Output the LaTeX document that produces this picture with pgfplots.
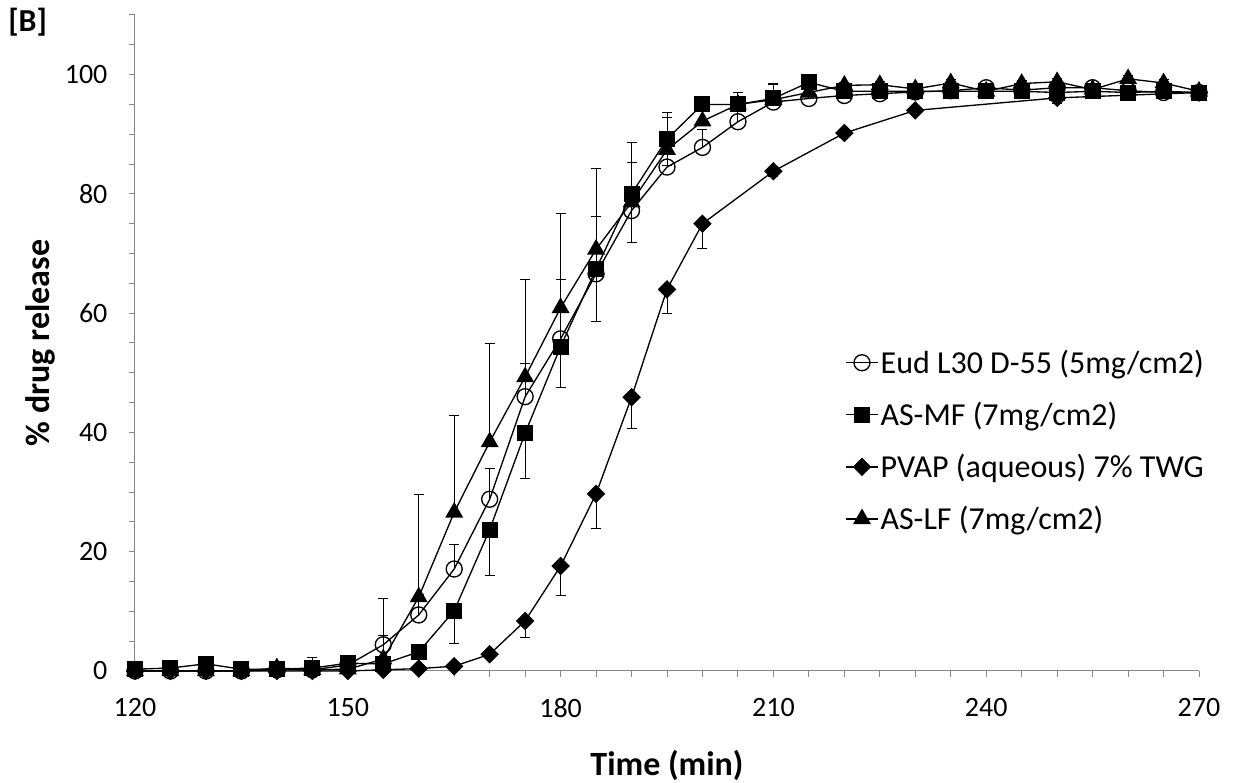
\documentclass[border=0pt]{standalone}
\usepackage{fontspec}
\setmainfont{Carlito}
\usepackage{pgfplots}
\usepackage{pgfplotstable}
\pgfplotsset{compat=1.18}
\definecolor{axisgray}{HTML}{868686}

% time (min), mean release (%), one-sided error
\pgfplotstableread{
t y e
120 0.0 0.3
125 0.0 0.3
130 0.0 0.3
135 0.0 0.3
140 0.2 0.5
145 0.2 2.0
150 1.0 0.8
155 4.4 1.5
160 9.4 3.5
165 17.1 4.1
170 28.8 5.2
175 46.0 5.5
180 55.7 9.9
185 66.6 9.6
190 77.2 8.0
195 84.5 8.3
200 87.8 3.0
205 92.1 2.5
210 95.4 3.0
215 96.0 1.0
220 96.5 0.8
225 96.8 0.6
230 97.1 0.5
235 97.3 0.5
240 97.8 0.5
245 97.4 0.5
250 97.8 0.5
255 97.8 0.5
260 97.3 0.5
265 97.0 0.5
270 97.0 0.5
}\eud

\pgfplotstableread{
t y e
120 0.3 0.2
125 0.5 0.2
130 1.2 0.3
135 0.3 0.2
140 0.3 0.2
145 0.5 0.3
150 1.3 0.5
155 1.2 0.5
160 3.2 1.0
165 10.1 5.5
170 23.7 7.7
175 39.9 7.6
180 54.4 6.8
185 67.4 8.8
190 80.0 8.1
195 89.2 4.5
200 95.0 1.0
205 95.0 0.5
210 96.0 0.5
215 98.7 0.5
220 97.2 0.3
225 97.2 0.3
230 97.2 0.3
235 97.2 0.3
240 97.2 0.3
245 97.2 0.3
250 97.0 0.3
255 97.2 0.3
260 97.0 0.3
265 97.2 0.3
270 97.0 0.3
}\asmf

\pgfplotstableread{
t y e
120 0.0 0.1
125 0.0 0.1
130 0.0 0.1
135 0.0 0.1
140 0.0 0.1
145 0.0 0.1
150 0.0 0.1
155 0.2 0.1
160 0.4 0.2
165 0.8 0.3
170 2.8 0.5
175 8.4 2.8
180 17.6 5.0
185 29.7 5.8
190 45.9 5.2
195 64.0 4.0
200 75.0 4.1
210 83.8 0.8
220 90.2 0.8
230 94.0 0.5
250 96.1 1.0
270 97.0 0.3
}\pvap

\pgfplotstableread{
t y e
120 0.0 0.3
125 0.0 0.3
130 0.0 0.3
135 0.0 0.3
140 0.5 0.3
145 0.2 0.5
150 0.3 0.5
155 2.0 10.2
160 12.4 17.2
165 26.6 16.2
170 38.4 16.5
175 49.3 16.3
180 60.9 15.8
185 70.7 13.5
190 78.6 10.1
195 87.4 6.2
200 92.2 2.0
205 95.0 2.0
210 95.8 2.7
215 97.0 0.5
220 98.2 0.5
225 98.3 0.5
230 97.6 0.5
235 98.6 0.5
240 97.2 0.5
245 98.5 0.5
250 98.8 0.5
255 97.5 0.5
260 99.3 0.5
265 98.6 0.5
270 97.2 0.5
}\aslf

\begin{document}
\begin{tikzpicture}
\begin{axis}[
  scale only axis,
  width=798pt, height=492pt,
  xmin=120, xmax=270, ymin=0, ymax=110,
  enlargelimits=false,
  clip=false,
  axis lines*=left,
  axis line style={axisgray, line width=0.75pt},
  tick style={axisgray, line width=0.75pt},
  tick align=outside,
  major tick length=4.5pt, minor tick length=4.5pt,
  xtick={120,150,...,270},
  ytick={0,20,...,100},
  minor xtick={120,125,...,270},
  minor ytick={0,5,...,110},
  /pgf/number format/assume math mode=true,
  ticklabel style={font=\fontsize{21}{25}\selectfont, text=black},
  yticklabel style={inner sep=0pt, anchor=east, xshift=-16pt},
  xticklabel style={inner sep=0pt, anchor=north, yshift=-15.5pt},
  xlabel={\bfseries Time (min)},
  ylabel={\bfseries \% drug release},
  label style={font=\fontsize{25.5}{30}\selectfont},
  x label style={at={(axis description cs:0.5,-0.1433)}, anchor=center},
  y label style={at={(axis description cs:-0.0893,0.5)}, anchor=center, rotate=0},
  error bars/error bar style={black, line width=0.75pt},
  error bars/error mark options={black, rotate=90, mark size=3.75pt, line width=0.75pt},
  legend cell align=left,
  legend image code/.code={\draw[mark repeat=2, mark phase=2] plot coordinates {(0pt,0pt) (12pt,0pt) (24pt,0pt)};},
  legend style={at={(axis cs:220.1,54.2)}, anchor=north west, draw=none, fill=none,
    font=\fontsize{24}{28}\selectfont, row sep=17pt, inner sep=0pt, nodes={inner sep=1.5pt}},
]
\addplot[black, line width=1pt, mark=o, mark size=6pt,
  error bars/.cd, y dir=plus, y explicit]
  table[x=t, y=y, y error=e] {\eud};
\addplot[black, line width=1pt, mark=square*, mark size=5.5pt,
  error bars/.cd, y dir=minus, y explicit]
  table[x=t, y=y, y error=e] {\asmf};
\addplot[black, line width=1pt, mark=square*, mark size=4.4pt, mark options={rotate=45},
  error bars/.cd, y dir=minus, y explicit]
  table[x=t, y=y, y error=e] {\pvap};
\addplot[black, line width=1pt, mark=triangle*, mark size=6.8pt,
  error bars/.cd, y dir=plus, y explicit]
  table[x=t, y=y, y error=e] {\aslf};
\legend{Eud L30 D-55 (5mg/cm2), AS-MF (7mg/cm2), PVAP (aqueous) 7\% TWG, AS-LF (7mg/cm2)}
\coordinate (SW) at (rel axis cs:0,0);
\coordinate (NE) at (rel axis cs:1,1);
\node[font=\fontsize{24}{28}\selectfont\bfseries, anchor=center] at ([shift={(-80.5pt,-5.5pt)}]rel axis cs:0,1) {[B]};
\end{axis}
\pgfresetboundingbox
\path ([shift={(-101.25pt,-84pt)}]SW) rectangle ([shift={(35.25pt,11.25pt)}]NE);
\end{tikzpicture}
\end{document}
